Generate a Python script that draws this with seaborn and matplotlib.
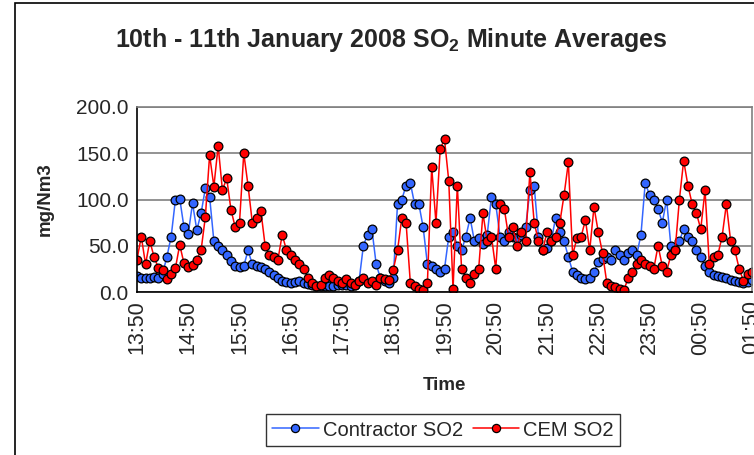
import matplotlib
matplotlib.use("Agg")
import matplotlib.pyplot as plt
import seaborn as sns
import pandas as pd
from matplotlib.lines import Line2D
from matplotlib.patches import Rectangle

# minutes after 13:50 (5-minute readings)
minutes = list(range(0, 721, 5))
tick_labels = ["13:50", "14:50", "15:50", "16:50", "17:50", "18:50", "19:50",
               "20:50", "21:50", "22:50", "23:50", "00:50", "01:50"]
y_ticks = [0, 50, 100, 150, 200]

contractor_so2 = [
    17, 15, 15, 15, 16, 15, 20, 38, 60, 100, 101, 70, 63, 96, 67, 85, 112, 103, 55, 50, 45, 40, 33, 28, 27,
    28, 45, 30, 28, 27, 25, 22, 18, 15, 12, 11, 10, 11, 12, 10, 9, 8, 7, 7, 7, 6, 7, 8, 8,
    8, 7, 8, 12, 50, 62, 68, 30, 15, 12, 10, 15, 95, 100, 115, 118, 95, 95, 70, 30, 28, 25, 22, 25,
    60, 65, 50, 45, 60, 80, 55, 58, 52, 62, 103, 95, 60, 55, 65, 60, 58, 62, 70, 110, 115, 60, 45, 48,
    55, 80, 65, 55, 38, 22, 18, 15, 14, 15, 22, 32, 36, 38, 35, 45, 40, 35, 42, 45, 40, 62, 118, 105,
    100, 90, 75, 100, 50, 45, 55, 68, 60, 55, 45, 38, 28, 22, 18, 17, 16, 15, 13, 12, 11, 10, 11, 13,
]
cem_so2 = [
    35, 60, 30, 55, 38, 26, 24, 14, 20, 26, 51, 31, 27, 29, 35, 45, 81, 148, 114, 158, 110, 123, 89, 70, 75,
    150, 115, 75, 80, 88, 50, 40, 38, 35, 62, 45, 40, 35, 30, 25, 15, 10, 6, 8, 15, 18, 15, 12, 10,
    14, 10, 8, 12, 15, 10, 12, 8, 15, 14, 13, 24, 45, 80, 75, 10, 6, 3, 2, 10, 135, 75, 155, 165,
    120, 3, 115, 25, 15, 10, 20, 25, 85, 55, 60, 25, 95, 90, 60, 70, 50, 65, 55, 130, 75, 55, 45, 65,
    55, 60, 75, 105, 140, 40, 58, 60, 78, 45, 92, 65, 42, 10, 6, 5, 3, 2, 15, 22, 30, 35, 30, 28,
    25, 50, 28, 22, 40, 45, 100, 142, 115, 95, 85, 68, 110, 30, 38, 40, 60, 95, 55, 45, 25, 12, 20, 22,
]
series_names = ["Contractor SO2", "CEM SO2"]
colors = {"Contractor SO2": "#3366FF", "CEM SO2": "#FF0000"}

sns.set_style("white")
plt.rcParams["font.family"] = ["Liberation Sans", "DejaVu Sans"]
plt.rcParams["mathtext.fontset"] = "custom"
plt.rcParams["mathtext.rm"] = "Liberation Sans:bold"
plt.rcParams["mathtext.bf"] = "Liberation Sans:bold"

df = pd.DataFrame({
    "Time": minutes + minutes,
    "value": contractor_so2 + cem_so2,
    "series": [series_names[0]] * len(minutes) + [series_names[1]] * len(minutes),
})

W, H = 754, 455
MS, MEW, LW = 6.3, 0.9, 1.1
fig = plt.figure(figsize=(W / 100, H / 100), dpi=100)
fig.patch.set_facecolor("white")
ax = fig.add_axes([137 / W, 1 - 292 / H, (752 - 137) / W, (292 - 107) / H])

sns.lineplot(data=df, x="Time", y="value", hue="series", hue_order=series_names,
             palette=colors, estimator=None, sort=False, legend=False, ax=ax,
             marker="o", markersize=MS, markeredgecolor="black", markeredgewidth=MEW,
             linewidth=LW)

ax.set_xlim(0, 720)
ax.set_ylim(0, 200)
ax.set_yticks(y_ticks)
ax.set_yticklabels([f"{v:.1f}" for v in y_ticks], fontsize=15)
ax.set_xticks(list(range(0, 721, 60)))
ax.set_xticklabels(tick_labels, rotation=90, fontsize=15.5)
ax.set_xticks(list(range(0, 721, 15)), minor=True)
ax.tick_params(axis="both", which="both", direction="out", length=4, width=1,
               color="black", pad=2)
ax.tick_params(axis="x", which="minor", length=4)
ax.yaxis.grid(True, color="#808080", linewidth=1.2)
ax.set_axisbelow(True)
for s in ["left", "bottom"]:
    ax.spines[s].set_color("black")
    ax.spines[s].set_linewidth(1.2)
for s in ["top", "right"]:
    ax.spines[s].set_color("#808080")
    ax.spines[s].set_linewidth(1.2)

ax.set_xlabel("Time", fontsize=13.5, fontweight="bold", labelpad=16)
ax.set_ylabel("mg/Nm3", fontsize=13.5, fontweight="bold", labelpad=16)

fig.text(0.518, 1 - 40 / H, "10th - 11th January 2008 SO$_{2}$ Minute Averages",
         ha="center", va="center", fontsize=18, fontweight="bold")

handles = [Line2D([], [], color=colors[n], marker="o", markersize=MS - 0.4,
                  markeredgecolor="black", markeredgewidth=MEW, linewidth=LW)
           for n in series_names]
leg = fig.legend(handles, series_names, loc="center", ncol=2,
                 bbox_to_anchor=(443 / W, 1 - 430 / H), fontsize=14.5,
                 frameon=True, fancybox=False, handlelength=2.3,
                 handletextpad=0.2, columnspacing=0.5, borderpad=0.3)
leg.get_frame().set_edgecolor("black")
leg.get_frame().set_linewidth(1.0)

fig.patches.append(Rectangle((15 / W, -0.1), 1.2, 1.1 - 3 / H, transform=fig.transFigure,
                             fill=False, edgecolor="black", linewidth=1.2))

fig.savefig("out.png", dpi=100)
